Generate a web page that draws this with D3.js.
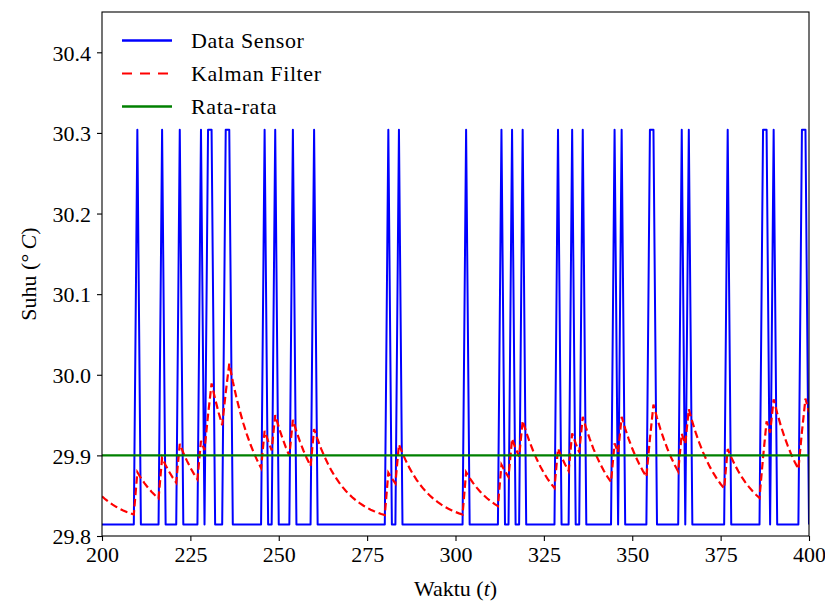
<!DOCTYPE html>
<html>
<head>
<meta charset="utf-8">
<script src="https://cdn.jsdelivr.net/npm/d3@7"></script>
<style>
  html, body { margin: 0; padding: 0; background: #ffffff; }
  svg { display: block; }
  text { font-family: "Liberation Serif", "Times New Roman", serif; fill: #000; }
</style>
</head>
<body>
<svg id="chart" width="825" height="604"></svg>
<script>
// ---------------- data ----------------
const timeStart = 200;
const timeEnd = 400;
// sensor toggles between two quantised levels
const sensorLowLevel = 29.8144;
const sensorHighLevel = 30.304;
// time steps at which the sensor reads the high level
const sensorHighTimes = [210, 217, 222, 228, 230, 231, 235, 236, 246, 249, 254, 260,
  281, 284, 303, 313, 316, 319, 329, 333, 336, 345, 347, 355, 356, 364, 366,
  377, 387, 388, 390, 398, 399];
// Kalman filter estimate, t = 200 ... 400
const kalmanValues = [
  29.8491, 29.8453, 29.8419, 29.8389, 29.8362, 29.8338, 29.8317, 29.8298, 29.8281, 29.8266,
  29.8791, 29.8720, 29.8656, 29.8600, 29.8550, 29.8505, 29.8465, 29.8969, 29.8878, 29.8797,
  29.8725, 29.8662, 29.9143, 29.9033, 29.8935, 29.8848, 29.8771, 29.8702, 29.9179, 29.9065,
  29.9503, 29.9892, 29.9700, 29.9528, 29.9376, 29.9779, 30.0138, 29.9919, 29.9723, 29.9550,
  29.9395, 29.9257, 29.9135, 29.9026, 29.8929, 29.8843, 29.9304, 29.9177, 29.9063, 29.9501,
  29.9351, 29.9219, 29.9100, 29.8995, 29.9440, 29.9298, 29.9171, 29.9058, 29.8957, 29.8868,
  29.9327, 29.9197, 29.9081, 29.8978, 29.8886, 29.8804, 29.8732, 29.8667, 29.8610, 29.8558,
  29.8513, 29.8472, 29.8436, 29.8404, 29.8375, 29.8350, 29.8327, 29.8307, 29.8289, 29.8273,
  29.8259, 29.8785, 29.8714, 29.8652, 29.9134, 29.9026, 29.8929, 29.8842, 29.8765, 29.8697,
  29.8636, 29.8582, 29.8534, 29.8491, 29.8453, 29.8419, 29.8389, 29.8362, 29.8338, 29.8317,
  29.8298, 29.8281, 29.8266, 29.8791, 29.8720, 29.8656, 29.8600, 29.8550, 29.8505, 29.8465,
  29.8430, 29.8399, 29.8371, 29.8884, 29.8803, 29.8730, 29.9205, 29.9088, 29.8984, 29.9430,
  29.9289, 29.9163, 29.9051, 29.8951, 29.8862, 29.8783, 29.8713, 29.8650, 29.8595, 29.9084,
  29.8980, 29.8888, 29.8807, 29.9272, 29.9148, 29.9038, 29.9478, 29.9331, 29.9201, 29.9084,
  29.8981, 29.8889, 29.8807, 29.8734, 29.8669, 29.9150, 29.9039, 29.9479, 29.9333, 29.9202,
  29.9085, 29.8982, 29.8890, 29.8808, 29.8735, 29.9208, 29.9630, 29.9466, 29.9321, 29.9192,
  29.9076, 29.8974, 29.8882, 29.8801, 29.9268, 29.9144, 29.9573, 29.9415, 29.9276, 29.9151,
  29.9040, 29.8942, 29.8854, 29.8776, 29.8706, 29.8645, 29.8590, 29.9079, 29.8976, 29.8885,
  29.8803, 29.8731, 29.8666, 29.8609, 29.8558, 29.8512, 29.8472, 29.8974, 29.9422, 29.9281,
  29.9695, 29.9524, 29.9372, 29.9237, 29.9117, 29.9010, 29.8915, 29.8830, 29.9293, 29.9705,
  29.9534
];
const meanValue = 29.9;
const xTicks = [200, 225, 250, 275, 300, 325, 350, 375, 400];
const yTicks = [29.8, 29.9, 30.0, 30.1, 30.2, 30.3, 30.4];
const yDomain = [29.8, 30.45];
const legendLabels = ["Data Sensor", "Kalman Filter", "Rata-rata"];

// ---------------- build series ----------------
const times = d3.range(timeStart, timeEnd + 1);
const highSet = new Set(sensorHighTimes);
const sensorSeries = times.map(t => ({ t, v: highSet.has(t) ? sensorHighLevel : sensorLowLevel }));
const kalmanSeries = times.map((t, i) => ({ t, v: kalmanValues[i] }));
const meanSeries = [{ t: timeStart, v: meanValue }, { t: timeEnd, v: meanValue }];

// ---------------- layout ----------------
const svg = d3.select("#chart");
const m = { left: 102, right: 809, top: 12, bottom: 536 };
const x = d3.scaleLinear().domain([timeStart, timeEnd]).range([m.left, m.right]);
const y = d3.scaleLinear().domain(yDomain).range([m.bottom, m.top]);

svg.append("defs").append("clipPath").attr("id", "clip")
  .append("rect").attr("x", m.left).attr("y", m.top)
  .attr("width", m.right - m.left).attr("height", m.bottom - m.top);

const line = d3.line().x(d => x(d.t)).y(d => y(d.v));
const plot = svg.append("g").attr("clip-path", "url(#clip)");

plot.append("path").datum(sensorSeries)
  .attr("d", line).attr("fill", "none")
  .attr("stroke", "#0000ff").attr("stroke-width", 2).attr("stroke-linejoin", "round");

plot.append("path").datum(kalmanSeries)
  .attr("d", line).attr("fill", "none")
  .attr("stroke", "#ff0000").attr("stroke-width", 2.2)
  .attr("stroke-dasharray", "7.5,3.8");

plot.append("path").datum(meanSeries)
  .attr("d", line).attr("fill", "none")
  .attr("stroke", "#008000").attr("stroke-width", 2.4);

// ---------------- axes ----------------
const fontSize = 22;
const xAxis = d3.axisBottom(x).tickValues(xTicks).tickFormat(d3.format("d")).tickSizeOuter(0).tickSize(5).tickPadding(5);
const gx = svg.append("g").attr("transform", `translate(0,${m.bottom})`).call(xAxis);
const yAxis = d3.axisLeft(y).tickValues(yTicks).tickFormat(d3.format(".1f")).tickSizeOuter(0).tickSize(5).tickPadding(6);
const gy = svg.append("g").attr("transform", `translate(${m.left},0)`).call(yAxis);
[gx, gy].forEach(g => {
  g.select(".domain").remove();
  g.selectAll(".tick line").attr("stroke", "#000").attr("stroke-width", 1.1);
  g.selectAll(".tick text").style("font-size", fontSize + "px").attr("fill", "#000");
});
gy.selectAll(".tick text").attr("dy", "0.35em");

// frame
svg.append("rect").attr("x", m.left).attr("y", m.top)
  .attr("width", m.right - m.left).attr("height", m.bottom - m.top)
  .attr("fill", "none").attr("stroke", "#000").attr("stroke-width", 1.1);

// axis labels
svg.append("text").attr("x", (m.left + m.right) / 2).attr("y", 596)
  .attr("text-anchor", "middle").style("font-size", fontSize + "px")
  .call(t => {
    t.append("tspan").text("Waktu (");
    t.append("tspan").attr("font-style", "italic").text("t");
    t.append("tspan").text(")");
  });

svg.append("text")
  .attr("transform", `translate(36,${(m.top + m.bottom) / 2}) rotate(-90)`)
  .attr("text-anchor", "middle").style("font-size", fontSize + "px")
  .call(t => {
    t.append("tspan").text("Suhu (");
    t.append("tspan").text("°\u2009");
    t.append("tspan").attr("font-style", "italic").text("C");
    t.append("tspan").text(")");
  });

// legend
const legendColors = ["#0000ff", "#ff0000", "#008000"];
const legendDash = [null, "10,8", null];
const legendY = [40.5, 73.5, 106.5];
const lg = svg.append("g");
legendLabels.forEach((lab, i) => {
  lg.append("line").attr("x1", 122).attr("x2", 172)
    .attr("y1", legendY[i]).attr("y2", legendY[i])
    .attr("stroke", legendColors[i]).attr("stroke-width", i === 1 ? 2.2 : 2.4)
    .attr("stroke-dasharray", legendDash[i]);
  lg.append("text").attr("x", 191).attr("y", legendY[i]).attr("dy", "0.35em")
    .style("font-size", fontSize + "px").style("letter-spacing", "0.6px").text(lab);
});
</script>
</body>
</html>
